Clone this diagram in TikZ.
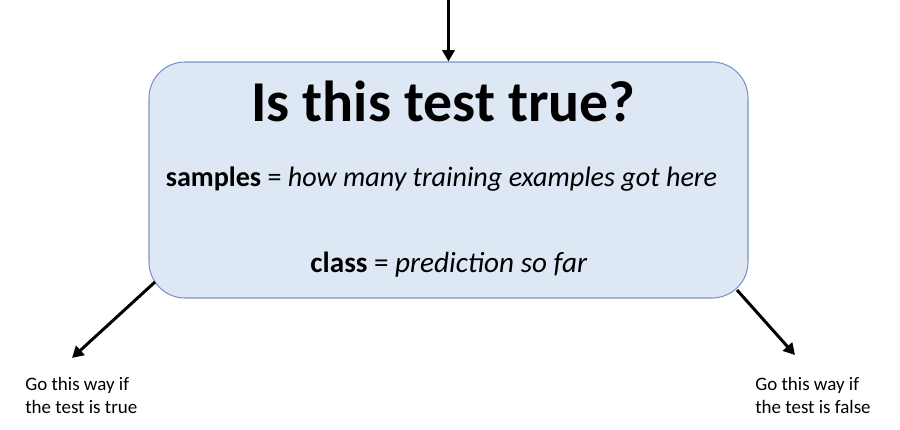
\documentclass[tikz,border=0pt]{standalone}
\usepackage{fontspec}
\setmainfont{Carlito}
\definecolor{boxfill}{RGB}{222,232,245}
\definecolor{boxline}{RGB}{125,146,196}
\usepackage{tikz}
\usetikzlibrary{arrows.meta,positioning,calc}

\begin{document}
\begin{tikzpicture}[
  cond/.style={draw=boxline,line width=0.6pt,fill=boxfill,rounded corners=0.72cm,
    minimum width=11.98cm,minimum height=4.72cm},
  ttl/.style={font=\fontsize{32.9}{38}\selectfont\bfseries,inner sep=0pt,anchor=base},
  info/.style={font=\fontsize{16}{19}\selectfont,inner sep=0pt,anchor=base},
  lab/.style={font=\fontsize{10.8}{13}\selectfont,align=left,inner sep=0pt,anchor=base west},
  flow/.style={line width=1.7pt,-{Triangle[length=6.5pt,width=7pt]}}
]
\useasboundingbox (0,0) rectangle (18,-8.6);
% Decision node
\node[cond] (tst) at (8.97,-3.6) {};
\node[ttl] (q) at (8.87,-2.42) {Is this test true?};
\node[info] (smp) at (8.83,-3.72) {\textbf{samples} = \textit{how many training examples got here}};
\node[info,font=\fontsize{16.6}{19}\selectfont] (cls) at (8.98,-5.44) {\textbf{class} = \textit{prediction so far}};
% Incoming branch
\coordinate (in) at (tst.north |- 0,0);
\draw[flow] (in) -- (tst.north);
% Outgoing branches
\coordinate (tl) at (3.1,-5.64);
\coordinate (tr) at (14.74,-5.8);
\coordinate (gl) at (1.44,-7.16);
\coordinate (gr) at (15.9,-7.1);
\draw[flow] (tl) -- (gl);
\draw[flow] (tr) -- (gr);
\node[lab] (yes) at (0.5,-8.26) {Go this way if\\the test is true};
\node[lab] (no) at (15.1,-8.26) {Go this way if\\the test is false};
\end{tikzpicture}
\end{document}
